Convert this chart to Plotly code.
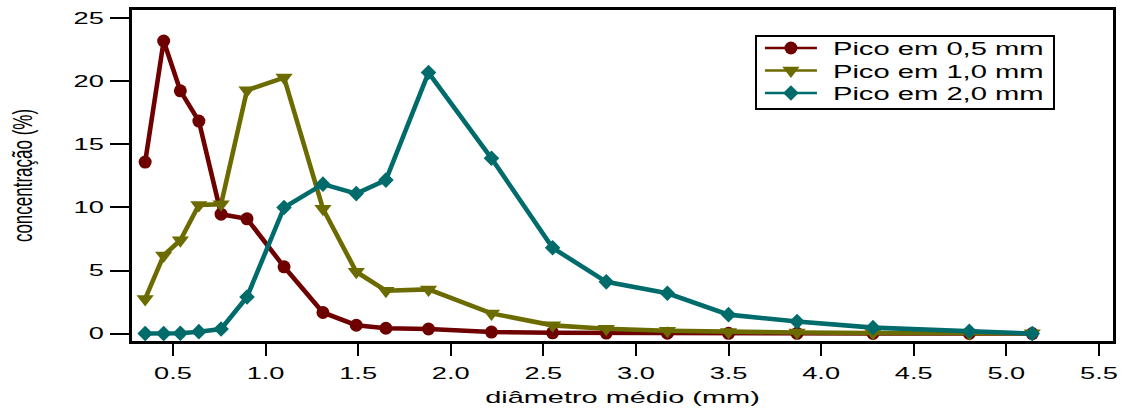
import plotly.graph_objects as go

# Mean sieve diameter (mm) and concentration (%) for three size distributions
diametro_mm = [0.35, 0.45, 0.54, 0.64, 0.76, 0.90, 1.10, 1.31, 1.49, 1.65,
               1.88, 2.22, 2.55, 2.84, 3.17, 3.50, 3.87, 4.28, 4.80, 5.14]

pico_05 = [13.6, 23.2, 19.25, 16.85, 9.47, 9.1, 5.29, 1.67, 0.66, 0.42,
           0.36, 0.12, 0.06, 0.04, 0.03, 0.02, 0.02, 0.01, 0.01, 0.0]
pico_10 = [2.75, 6.2, 7.4, 10.2, 10.25, 19.3, 20.3, 9.9, 4.9, 3.4,
           3.5, 1.6, 0.65, 0.38, 0.22, 0.12, 0.08, 0.05, 0.03, 0.02]
pico_20 = [0.0, 0.0, 0.02, 0.15, 0.36, 2.9, 10.0, 11.85, 11.1, 12.17,
           20.7, 13.9, 6.8, 4.1, 3.2, 1.5, 0.95, 0.47, 0.18, 0.0]

nomes = ["Pico em 0,5 mm", "Pico em 1,0 mm", "Pico em 2,0 mm"]
cores = ["#6e0000", "#6b6b00", "#006b6b"]
simbolos = ["circle", "triangle-down", "diamond"]
tamanhos = [13, 15, 12]

x_ticks = [0.5, 1.0, 1.5, 2.0, 2.5, 3.0, 3.5, 4.0, 4.5, 5.0, 5.5]
y_ticks = [0, 5, 10, 15, 20, 25]

fig = go.Figure()
for serie, nome, cor, simb, tam in zip([pico_05, pico_10, pico_20], nomes, cores, simbolos, tamanhos):
    fig.add_trace(go.Scatter(
        x=diametro_mm, y=serie, name=nome, mode="lines+markers",
        line=dict(color=cor, width=4.6),
        marker=dict(color=cor, symbol=simb, size=tam, line=dict(width=0)),
    ))

fonte = "Liberation Sans, Arial, sans-serif"

fig.update_layout(
    width=1124, height=408,
    margin=dict(l=132, r=11, t=10, b=67, autoexpand=False),
    paper_bgcolor="white", plot_bgcolor="white",
    font=dict(family=fonte, color="black"),
    showlegend=True,
    legend=dict(
        x=0.635, y=0.9245, xanchor="left", yanchor="top",
        bordercolor="black", borderwidth=2, bgcolor="white",
        font=dict(size=18, family=fonte), tracegroupgap=0,
    ),
    xaxis=dict(
        range=[0.279, 5.576], tickvals=x_ticks, automargin=False,
        ticktext=[f"{v:.1f}" for v in x_ticks],
        ticks="outside", ticklen=12, tickwidth=2, tickcolor="black",
        showline=True, linecolor="black", linewidth=3, mirror=True,
        showgrid=False, zeroline=False,
        tickfont=dict(size=16, family=fonte), ticklabelstandoff=4,
        title=dict(text="diâmetro médio (mm)", font=dict(size=17, family=fonte), standoff=10),
    ),
    yaxis=dict(
        range=[-0.59, 25.66], tickvals=y_ticks, automargin=False,
        ticks="outside", ticklen=19, tickwidth=2, tickcolor="black",
        showline=True, linecolor="black", linewidth=3, mirror=True,
        showgrid=False, zeroline=False,
        tickfont=dict(size=16, family=fonte), ticklabelstandoff=3,
        title=dict(text="concentração (%)", font=dict(size=17, family=fonte), standoff=50),
    ),
)

# Extended-sans look: widen the horizontal text, thicken the rotated title,
# and lay out the legend with a longer line sample and tighter rows.
stretch_js = """
var gd = document.getElementById('{plot_id}');
function widen(t, k) {
    var w = t.getComputedTextLength();
    t.setAttribute('textLength', (w * k).toFixed(1));
    t.setAttribute('lengthAdjust', 'spacingAndGlyphs');
}
gd.querySelectorAll('.xtick text, .ytick text, .xtitle').forEach(function (t) { widen(t, 1.7); });
var yt = gd.querySelector('.ytitle');
if (yt) {
    var cx = parseFloat(yt.getAttribute('x'));
    yt.setAttribute('transform', 'translate(' + cx + ',0) scale(1.6,1) translate(' + (-cx) + ',0) ' +
                    (yt.getAttribute('transform') || ''));
}
gd.querySelectorAll('.legend [clip-path]').forEach(function (e) { e.removeAttribute('clip-path'); });
var bg = gd.querySelector('.legend .bg');
if (bg) { bg.setAttribute('width', 298); bg.setAttribute('height', 73); }
gd.querySelectorAll('.legend .traces').forEach(function (tr, i) {
    var m = /translate\\(([-\\d.]+)/.exec(tr.getAttribute('transform') || '');
    var tx = m ? parseFloat(m[1]) : 1;
    tr.setAttribute('transform', 'translate(' + tx + ',' + (13 + i * 22.5) + ')');
    tr.querySelectorAll('.legendlines path').forEach(function (p) {
        p.setAttribute('d', 'M8,0h52');
        p.style.strokeWidth = '2.5px';
    });
    tr.querySelectorAll('.legendpoints path').forEach(function (p) {
        p.setAttribute('transform', 'translate(34,0)');
    });
    var t = tr.querySelector('.legendtext');
    if (t) { t.setAttribute('x', 76); widen(t, 1.62); }
});
"""

fig.write_html("out.html", post_script=stretch_js)
